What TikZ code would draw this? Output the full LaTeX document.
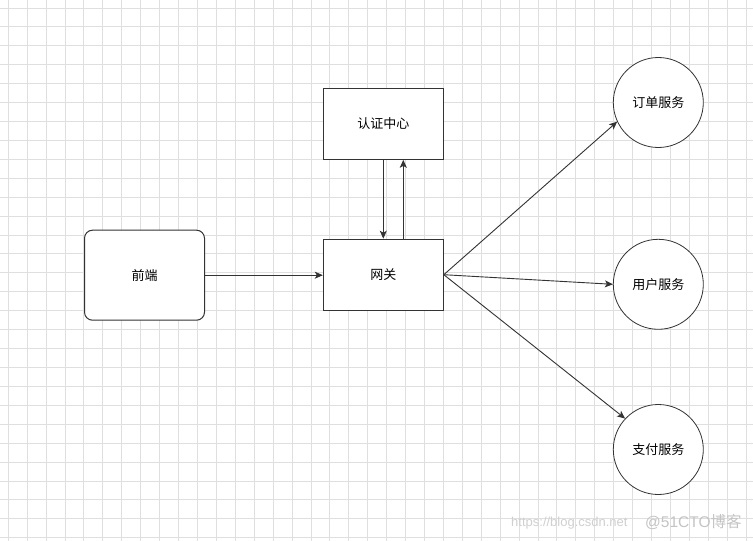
\documentclass[tikz,border=0pt]{standalone}
\usepackage{fontspec}
\setmainfont{Liberation Sans}
\newfontfamily\cjk{Noto Sans CJK SC}
\usetikzlibrary{arrows.meta}
\definecolor{edgecol}{HTML}{333333}
\definecolor{gridcol}{HTML}{DFDFDF}
\definecolor{wmlight}{HTML}{D0D0D0}
\definecolor{wmdark}{HTML}{C4C4C4}
\tikzset{
  gridline/.style={draw=gridcol, line width=1pt},
  box/.style={draw=edgecol, fill=white, line width=1pt, minimum width=120pt, minimum height=71pt, inner sep=0pt, font=\cjk\fontsize{13}{15}\selectfont},
  rbox/.style={box, rounded corners=8pt, minimum height=90pt},
  svc/.style={circle, draw=edgecol, fill=white, line width=0.8pt, minimum size=90pt, inner sep=0pt, font=\cjk\fontsize{13}{15}\selectfont},
  arr/.style={draw=edgecol, line width=0.9pt, -{Stealth[length=8pt, width=7pt, inset=2pt]}},
  wm/.style={inner sep=0pt, anchor=west}
}
\begin{document}
\begin{tikzpicture}[x=1pt, y=-1pt]
  \useasboundingbox (0,0) rectangle (753,541);
  \fill[white] (0,0) rectangle (753,541);
  % grid
  \foreach \i in {0,...,39} \draw[gridline] ({8.3+18.92*\i},0) -- ++(0,541);
  \foreach \j in {0,...,28} \draw[gridline] (0,{8+18.92*\j}) -- ++(753,0);
  % nodes
  \node[rbox] (fe) at (144.5,275.2) {前端};
  \node[box] (gw) at (383.3,274.7) {网关};
  \node[box] (auth) at (383.3,123.8) {认证中心};
  \node[svc] (order) at (658.3,102.5) {订单服务};
  \node[svc] (user) at (658.3,284.3) {用户服务};
  \node[svc] (pay) at (658.3,449.5) {支付服务};
  % connectors
  \draw[arr] (fe.east) -- (fe.east -| gw.west);
  \draw[arr] (auth.south) -- (gw.north);
  \draw[arr] ([xshift=20pt]gw.north) -- ([xshift=20pt]auth.south);
  \draw[arr] (gw.east) -- (order.205);
  \draw[arr] (gw.east) -- (user.west);
  \draw[arr] (gw.east) -- (pay.137);
  % watermark
  \node[wm, text=wmlight, font=\fontsize{13}{15}\selectfont] (url) at (511,523) {https://blog.csdn.net};
  \node[wm, text=wmdark, font=\fontsize{15.5}{17}\selectfont] (mark) at (645,522) {@51CTO{\cjk 博客}};
\end{tikzpicture}
\end{document}
